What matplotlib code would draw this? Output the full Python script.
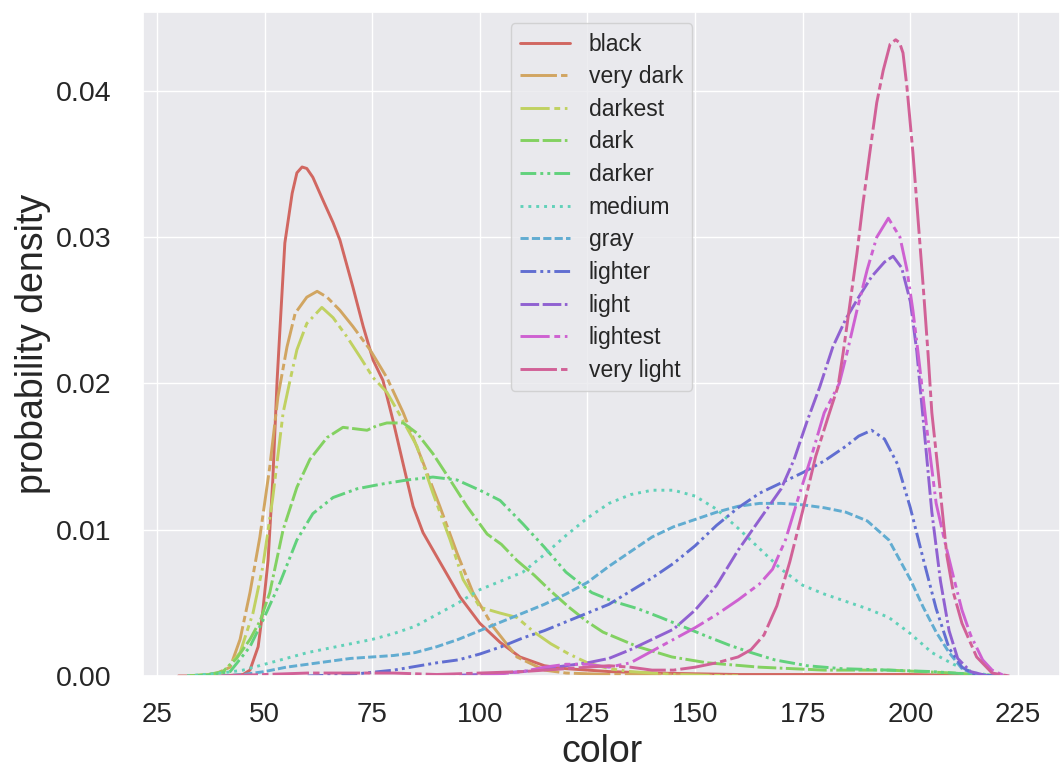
import matplotlib
matplotlib.use("Agg")
import matplotlib.pyplot as plt
from matplotlib.ticker import FormatStrFormatter
import seaborn as sns

# curves (x = color, y = density)
labels = ["black", "very dark", "darkest", "dark", "darker", "medium",
          "gray", "lighter", "light", "lightest", "very light"]

black_x = [30, 40, 45, 46.6, 48.5, 49.6, 50.8, 51.9, 52.9, 53.6, 54.7, 56.4, 57.5, 58.7,
           59.8, 61.2, 63.6, 65.9, 67.5, 70.5, 72.9, 75.2, 77.5, 79.8, 82.1, 84.5, 86.8,
           90.7, 95.4, 100, 104.7, 109.3, 115, 120, 125, 130, 140, 160, 180, 200, 220]
black_y = [0, 0, 0.0001, 0.0004, 0.002, 0.0045, 0.0079, 0.0134, 0.0202, 0.0239, 0.0296,
           0.033, 0.0344, 0.0348, 0.0347, 0.0341, 0.0325, 0.031, 0.0298, 0.0266, 0.0239,
           0.0216, 0.0202, 0.0175, 0.0146, 0.0116, 0.0098, 0.0078, 0.0054, 0.0036, 0.0023,
           0.0013, 0.0007, 0.0005, 0.0004, 0.0003, 0.0002, 0.0001, 0.0001, 0.0001, 0]

very_dark_x = [32, 36, 39, 42, 44.3, 46.6, 48.9, 51.2, 53.1, 55.2, 57.1, 59.8, 62.2, 64.5,
               67.5, 70.5, 74.5, 78.4, 82.2, 86.8, 90.7, 94.7, 98.4, 103, 108.6, 115, 120,
               130, 140, 160]
very_dark_y = [0, 0.00005, 0.0002, 0.0006, 0.0025, 0.0057, 0.0095, 0.0143, 0.0191, 0.0225,
               0.0248, 0.0259, 0.0263, 0.0259, 0.025, 0.0239, 0.0223, 0.0204, 0.018, 0.0146,
               0.0116, 0.0084, 0.0057, 0.0034, 0.0013, 0.0004, 0.0002, 0.0001, 0.0001, 0]

darkest_x = [32, 37, 40.3, 44.3, 47.3, 49.6, 51.9, 54.3, 55.9, 57.5, 59.8, 63.3, 65.9, 69.1,
             72.2, 75.2, 78.4, 81.5, 85.4, 89.1, 93.1, 96.1, 100, 104.7, 108.6, 112.6,
             116.5, 120.7, 125, 130, 135, 145, 160]
darkest_y = [0, 0.0001, 0.0002, 0.0016, 0.0043, 0.0075, 0.0122, 0.018, 0.0202, 0.0223,
             0.0241, 0.0252, 0.0245, 0.0232, 0.0218, 0.0204, 0.0194, 0.0178, 0.0157, 0.0125,
             0.0093, 0.0066, 0.0047, 0.0043, 0.004, 0.003, 0.0022, 0.0015, 0.0009, 0.0005,
             0.0003, 0.0001, 0]

dark_x = [32, 37, 40.3, 43.5, 46.6, 49, 51.2, 54.3, 57.5, 60.5, 64.5, 68.2, 71, 73.8, 76,
          78.4, 82.2, 85.4, 89.1, 93.1, 97, 101.7, 105, 108.6, 112.6, 116.5, 120.7, 125,
          128.6, 136.7, 144.6, 152.8, 165, 180, 195, 210, 222]
dark_y = [0, 0.0001, 0.0003, 0.0012, 0.0025, 0.0038, 0.0057, 0.01, 0.0129, 0.0148, 0.0163,
          0.017, 0.0169, 0.0168, 0.0171, 0.0173, 0.0173, 0.0166, 0.0152, 0.0134, 0.0116,
          0.0097, 0.009, 0.0079, 0.0069, 0.0058, 0.0047, 0.0037, 0.003, 0.002, 0.0013,
          0.0009, 0.0006, 0.0004, 0.0004, 0.0002, 0]

darker_x = [34, 38, 42, 46.6, 49.6, 53.6, 57.5, 61.2, 65.9, 71.5, 76.8, 83.1, 89.1, 94.7,
            100, 104.7, 110, 115, 120, 126, 131, 136.7, 142, 147, 152.8, 158, 163, 168.5,
            176, 184, 195, 205, 215, 222]
darker_y = [0, 0.0001, 0.0003, 0.002, 0.0038, 0.0064, 0.0093, 0.0111, 0.0122, 0.0128,
            0.0131, 0.0134, 0.0136, 0.0134, 0.0127, 0.012, 0.0104, 0.0088, 0.0071, 0.0057,
            0.0051, 0.0046, 0.004, 0.0034, 0.0027, 0.0021, 0.0016, 0.0011, 0.0007, 0.0005,
            0.0004, 0.0003, 0.0001, 0]

medium_x = [32, 40, 45, 50, 55, 60, 65, 70, 75, 80, 85, 90, 95, 100, 105, 110, 115, 120,
            125, 130, 135, 140, 145, 150, 155, 160, 165, 170, 175, 180, 185, 190, 195, 200,
            205, 210, 215, 220]
medium_y = [0, 0.0002, 0.0004, 0.0008, 0.0012, 0.0016, 0.0019, 0.0022, 0.0025, 0.0029,
            0.0034, 0.0042, 0.005, 0.0059, 0.0065, 0.0071, 0.0083, 0.0096, 0.0108, 0.0118,
            0.0124, 0.0127, 0.0127, 0.0123, 0.0114, 0.0101, 0.0087, 0.0073, 0.0062, 0.0056,
            0.0051, 0.0046, 0.004, 0.0029, 0.0016, 0.0008, 0.0002, 0]

gray_x = [40, 45, 50, 55, 60, 65, 70, 75, 80, 85, 90, 95, 100, 105, 110, 115, 120, 125, 130,
          135, 140, 145, 150, 155, 160, 165, 170, 175, 180, 185, 190, 195, 200, 203, 206,
          209, 212, 215, 220]
gray_y = [0, 0.0001, 0.0003, 0.0006, 0.0008, 0.001, 0.0012, 0.0013, 0.0014, 0.0016, 0.002,
          0.0025, 0.0031, 0.0037, 0.0043, 0.0049, 0.0056, 0.0064, 0.0075, 0.0085, 0.0095,
          0.0102, 0.0107, 0.0112, 0.0116, 0.0118, 0.0118, 0.0117, 0.0115, 0.0112, 0.0106,
          0.0093, 0.0066, 0.0047, 0.003, 0.0016, 0.0005, 0.0001, 0]

lighter_x = [60, 70, 80, 90, 95, 100, 105, 110, 115, 120, 125, 130, 135, 140, 145, 150, 155,
             160, 165, 170, 175, 180, 185, 188, 191, 194, 197, 200, 203, 206, 209, 212, 215,
             220]
lighter_y = [0, 0.0001, 0.0004, 0.0009, 0.0011, 0.0015, 0.002, 0.0026, 0.0031, 0.0037,
             0.0043, 0.0049, 0.0058, 0.0067, 0.0077, 0.0089, 0.0103, 0.0115, 0.0125, 0.0132,
             0.0139, 0.0147, 0.0157, 0.0164, 0.0168, 0.0162, 0.0145, 0.0115, 0.008, 0.0046,
             0.0019, 0.0006, 0.0001, 0]

light_x = [90, 100, 110, 115, 120, 125, 130, 135, 140, 145, 150, 155, 160, 165, 170, 173,
           176, 179, 182, 185, 188, 191, 194, 196, 198, 200, 201.5, 203, 205, 207, 209, 211,
           214, 218]
light_y = [0, 0.0001, 0.0003, 0.0005, 0.0007, 0.0009, 0.0012, 0.0018, 0.0025, 0.0032,
           0.0045, 0.0062, 0.0086, 0.0107, 0.0128, 0.0148, 0.0174, 0.0198, 0.0225, 0.0244,
           0.0259, 0.0273, 0.0283, 0.0287, 0.0279, 0.0256, 0.0222, 0.0175, 0.0112, 0.0065,
           0.0031, 0.0012, 0.0003, 0]

lightest_x = [100, 110, 115, 120, 125, 130, 135, 140, 145, 150, 155, 160, 165, 168, 171,
              174, 177, 180, 183.5, 185.3, 187.6, 190, 192.2, 194.9, 197.6, 199.2, 200.6,
              201.8, 204, 206, 208, 210, 212, 214, 216.8, 219, 222]
lightest_y = [0, 0.0003, 0.0006, 0.0008, 0.0008, 0.0006, 0.0009, 0.0017, 0.0025, 0.0033,
              0.0042, 0.0052, 0.0063, 0.0073, 0.0093, 0.0122, 0.015, 0.018, 0.02, 0.0221,
              0.025, 0.0278, 0.03, 0.0313, 0.03, 0.0278, 0.025, 0.0221, 0.0165, 0.0118,
              0.0092, 0.0068, 0.0045, 0.0028, 0.0011, 0.0004, 0]

very_light_x = [40, 50, 60, 70, 80, 90, 100, 110, 120, 130, 135, 140, 145, 150, 155, 160,
                163, 166, 169, 172, 175, 178, 181, 183.2, 184.4, 186, 187.6, 189, 190.6,
                192.2, 193.7, 195.3, 196.6, 197.5, 198.3, 199.2, 200.6, 201.8, 203, 204.1,
                205, 207, 208.5, 210, 212, 215.4, 219, 223]
very_light_y = [0, 0.0001, 0.0002, 0.0002, 0.0002, 0.0001, 0.0002, 0.0003, 0.0005, 0.0007,
                0.0006, 0.0004, 0.0004, 0.0006, 0.0009, 0.0013, 0.0018, 0.0028, 0.0048,
                0.0078, 0.0113, 0.015, 0.0178, 0.0198, 0.0221, 0.0255, 0.0289, 0.0323,
                0.0358, 0.0392, 0.0414, 0.0432, 0.0435, 0.0433, 0.0426, 0.0403, 0.0358,
                0.0312, 0.0266, 0.0221, 0.018, 0.0125, 0.0082, 0.0057, 0.0036, 0.0013,
                0.0002, 0]

xs = [black_x, very_dark_x, darkest_x, dark_x, darker_x, medium_x,
      gray_x, lighter_x, light_x, lightest_x, very_light_x]
ys = [black_y, very_dark_y, darkest_y, dark_y, darker_y, medium_y,
      gray_y, lighter_y, light_y, lightest_y, very_light_y]

# line styles (symmetric pattern as in the reference)
dash_a = (0, (12.5, 1.4, 2.2, 1.4))
dash_b = (0, (10, 1.6, 2.0, 1.6, 0.9, 1.6))
dash_c = (0, (6.4, 1.2, 6.4, 1.2, 0.9, 1.2))
dash_d = (0, (5.4, 1.4, 1.0, 1.4, 1.0, 1.4))
styles = ["-", dash_a, dash_b, dash_c, dash_d, (0, (1.0, 1.7)), (0, (2.8, 1.1)),
          dash_d, dash_c, dash_b, dash_a]

sns.set_theme(style="darkgrid", rc={"axes.facecolor": "#e9e9ed"})
plt.rcParams["font.family"] = ["Liberation Sans", "DejaVu Sans"]
colors = sns.color_palette("hls", len(labels), desat=0.85)

fig = plt.figure(figsize=(10.64, 7.72), dpi=100)
ax = fig.add_axes([0.1344, 0.1244, 0.8618, 0.8601])

for x, y, name, c, ls in zip(xs, ys, labels, colors, styles):
    ax.plot(x, y, color=c, lw=2.1, linestyle=ls, label=name)

ax.set_xlim(21.75, 234.76)
ax.set_ylim(0, 0.0454)
ax.set_xticks([25, 50, 75, 100, 125, 150, 175, 200, 225])
ax.set_yticks([0, 0.01, 0.02, 0.03, 0.04])
ax.yaxis.set_major_formatter(FormatStrFormatter("%.2f"))
ax.tick_params(axis="x", labelsize=20, pad=13)
ax.tick_params(axis="y", labelsize=20.5, pad=17)
ax.set_xlabel("color", fontsize=27, labelpad=4)
ax.set_ylabel("probability density", fontsize=27, labelpad=3)
ax.legend(loc="upper center", fontsize=16.5, labelspacing=0.42,
          handlelength=2.2, borderpad=0.4)

fig.savefig("out.png", dpi=100)
